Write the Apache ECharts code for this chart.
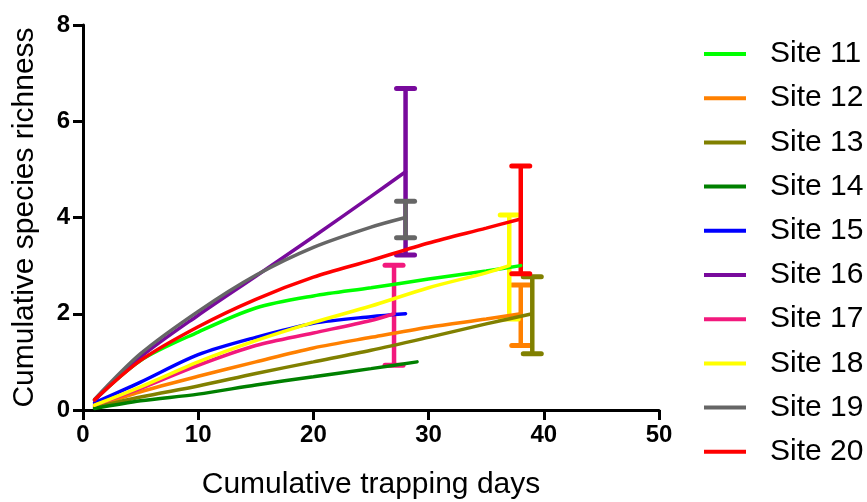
<!DOCTYPE html>
<html>
<head>
<meta charset="utf-8">
<script src="https://cdn.jsdelivr.net/npm/echarts@6/dist/echarts.min.js"></script>
<style>
  html, body { margin: 0; padding: 0; background: #fff; }
  #chart { width: 867px; height: 502px; }
</style>
</head>
<body>
<div id="chart"></div>
<script>
const siteNames = ['Site 11', 'Site 12', 'Site 13', 'Site 14', 'Site 15', 'Site 16', 'Site 17', 'Site 18', 'Site 19', 'Site 20'];
const siteColors = ['#00FF00', '#FF8000', '#808000', '#008000', '#0000FF', '#780A9C', '#F2197D', '#FFFF00', '#666666', '#FF0000'];

// cumulative trapping days / richness per site
const days11 = [1, 5, 10, 15, 20, 25, 30, 35, 38];
const rich11 = [0.21, 1.03, 1.62, 2.12, 2.37, 2.54, 2.72, 2.89, 3.0];
const days12 = [1, 5, 10, 15, 20, 25, 30, 35, 38];
const rich12 = [0.07, 0.38, 0.7, 1.0, 1.29, 1.51, 1.72, 1.89, 2.0];
const days13 = [1, 5, 10, 15, 20, 25, 30, 35, 39];
const rich13 = [0.05, 0.27, 0.5, 0.76, 1.0, 1.24, 1.51, 1.79, 2.0];
const days14 = [1, 5, 10, 15, 20, 25, 29];
const rich14 = [0.03, 0.19, 0.33, 0.52, 0.69, 0.86, 1.0];
const days15 = [1, 5, 10, 15, 20, 25, 28];
const rich15 = [0.15, 0.58, 1.15, 1.51, 1.8, 1.94, 2.0];
const days16 = [1, 5, 10, 15, 20, 25, 28];
const rich16 = [0.2, 1.1, 1.97, 2.78, 3.6, 4.44, 4.95];
const days17 = [1, 5, 10, 15, 20, 25, 27];
const rich17 = [0.1, 0.45, 0.93, 1.34, 1.6, 1.86, 2.0];
const days18 = [1, 5, 10, 15, 20, 25, 30, 35, 37];
const rich18 = [0.1, 0.48, 1.0, 1.44, 1.82, 2.16, 2.54, 2.85, 3.0];
const days19 = [1, 5, 10, 15, 20, 25, 28];
const rich19 = [0.22, 1.17, 2.05, 2.8, 3.38, 3.8, 4.0];
const days20 = [1, 5, 10, 15, 20, 25, 30, 35, 38];
const rich20 = [0.21, 1.03, 1.73, 2.3, 2.76, 3.11, 3.47, 3.78, 3.97];

// error bars at curve ends (mean +/- sd)
const errSite = ['Site 12', 'Site 13', 'Site 16', 'Site 17', 'Site 18', 'Site 19', 'Site 20'];
const errDay = [38, 39, 28, 27, 37, 28, 38];
const errMean = [1.97, 1.97, 4.95, 1.97, 2.97, 3.96, 3.95];
const errSd = [0.63, 0.8, 1.73, 1.04, 1.08, 0.38, 1.12];

const allDays = [days11, days12, days13, days14, days15, days16, days17, days18, days19, days20];
const allRich = [rich11, rich12, rich13, rich14, rich15, rich16, rich17, rich18, rich19, rich20];

const font = 'Liberation Sans, Arial, sans-serif';

function errRender(params, api) {
  const top = api.coord([api.value(0), api.value(2)]);
  const bot = api.coord([api.value(0), api.value(1)]);
  const color = api.visual('color');
  const half = 9;
  const style = { stroke: color, lineWidth: 5, lineCap: 'round' };
  return {
    type: 'group',
    children: [
      { type: 'line', shape: { x1: top[0], y1: top[1], x2: bot[0], y2: bot[1] }, style: { stroke: color, lineWidth: 4.5 } },
      { type: 'line', shape: { x1: top[0] - half, y1: top[1], x2: top[0] + half, y2: top[1] }, style },
      { type: 'line', shape: { x1: bot[0] - half, y1: bot[1], x2: bot[0] + half, y2: bot[1] }, style },
    ],
  };
}

const series = [];
siteNames.forEach((name, i) => {
  series.push({
    name,
    type: 'line',
    data: allDays[i].map((d, k) => [d, allRich[i][k]]),
    smooth: 0.3,
    showSymbol: false,
    symbol: 'none',
    color: siteColors[i],
    lineStyle: { width: 3.5, color: siteColors[i], cap: 'round' },
  });
  const e = errSite.indexOf(name);
  if (e >= 0) {
    series.push({
      name: 'err ' + name,
      type: 'custom',
      renderItem: errRender,
      color: siteColors[i],
      data: [[errDay[e], errMean[e] - errSd[e], errMean[e] + errSd[e]]],
      encode: { x: 0, y: [1, 2] },
    });
  }
});

const chart = echarts.init(document.getElementById('chart'));
chart.setOption({
  animation: false,
  backgroundColor: '#fff',
  grid: { left: 83, right: 208, top: 25, bottom: 92, outerBoundsMode: 'none', containLabel: false },
  legend: {
    data: siteNames,
    orient: 'vertical',
    left: 699,
    top: 34,
    icon: 'rect',
    itemWidth: 42,
    itemHeight: 4,
    itemGap: 14.2,
    textStyle: { fontSize: 30, lineHeight: 30, color: '#000', fontFamily: font, padding: [0, 0, 0, 19] },
  },
  xAxis: {
    type: 'value',
    min: 0,
    max: 50,
    interval: 10,
    name: 'Cumulative trapping days',
    nameLocation: 'middle',
    nameGap: 60,
    nameTextStyle: { fontSize: 30, color: '#000', fontFamily: font },
    axisLine: { onZero: false, lineStyle: { color: '#000', width: 3 } },
    axisTick: { length: 10, lineStyle: { color: '#000', width: 3 } },
    axisLabel: { fontSize: 24, fontWeight: 'bold', color: '#000', margin: 13, fontFamily: font },
    splitLine: { show: false },
  },
  yAxis: {
    type: 'value',
    min: 0,
    max: 8,
    interval: 2,
    name: 'Cumulative species richness',
    nameLocation: 'middle',
    nameGap: 43,
    nameTextStyle: { fontSize: 30, color: '#000', fontFamily: font },
    axisLine: { onZero: false, lineStyle: { color: '#000', width: 3 } },
    axisTick: { length: 10, lineStyle: { color: '#000', width: 3 } },
    axisLabel: { fontSize: 24, fontWeight: 'bold', color: '#000', margin: 13, fontFamily: font },
    splitLine: { show: false },
  },
  series,
});
</script>
</body>
</html>
